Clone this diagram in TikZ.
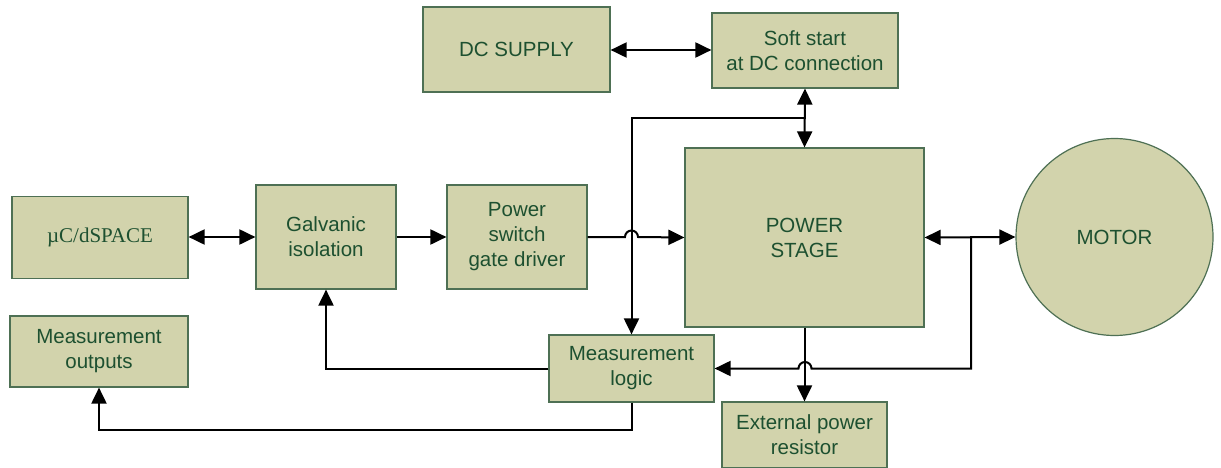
\documentclass[tikz,border=0pt]{standalone}
\usepackage{fontspec}
\setmainfont{Liberation Sans}
\newfontfamily\serifsym{Liberation Serif}
\usetikzlibrary{arrows.meta}
\definecolor{boxfill}{HTML}{D2D3AC}
\definecolor{boxline}{HTML}{4E7054}
\definecolor{boxtext}{HTML}{1D5030}
\tikzset{
  blk/.style={draw=boxline, line width=1.2pt, fill=boxfill, text=boxtext, inner sep=0pt, align=center, font=\fontsize{20.5}{25}\selectfont},
  conn/.style={line width=2pt, black},
  tip/.tip={Triangle[length=16pt,width=15pt]},
  one/.style={conn, -tip},
  two/.style={conn, tip-tip}
}
\begin{document}
\begin{tikzpicture}[x=1pt,y=-1pt]
\useasboundingbox (0,0) rectangle (1221,468);
\begin{scope}
\clip (0,0) rectangle (1221,468);
\node[blk, minimum width=187pt, minimum height=85pt] (dc) at (516.5,49.5) {DC SUPPLY};
\node[blk, minimum width=186pt, minimum height=75pt] (soft) at (805,50.5) {Soft start\\at DC connection};
\node[blk, minimum width=176pt, minimum height=82pt, font=\serifsym\fontsize{21}{25}\selectfont] (uc) at (100,237.5) {µC/dSPACE};
\node[blk, minimum width=140pt, minimum height=104pt] (gal) at (326,237) {Galvanic\\isolation};
\node[blk, minimum width=140pt, minimum height=104pt] (gate) at (517,237) {Power\\switch\\gate driver};
\node[blk, minimum width=239pt, minimum height=179pt] (ps) at (804.5,237.5) {POWER\\STAGE};
\node[blk, circle, minimum size=197pt] (motor) at (1114.5,237) {MOTOR};
\node[blk, minimum width=178pt, minimum height=71pt] (mout) at (99,351.5) {Measurement\\outputs};
\node[blk, minimum width=165pt, minimum height=67pt] (mlog) at (631.5,368.5) {Measurement\\logic};
\node[blk, minimum width=165pt, minimum height=66pt] (ext) at (804.5,435) {External power\\resistor};
\end{scope}

\coordinate (j1) at (805,118);
\coordinate (j2) at (971,237);
\coordinate (hopA) at (631.5,237);
\coordinate (hopB) at (805,368.5);
\coordinate (low) at (631.5,430);

% top row
\draw[two] (dc.east |- 0,50) -- (soft.west |- 0,50);
\draw[two] (soft.south) -- (ps.north);
\draw[one] (j1) -- (mlog.north |- j1) -- (mlog.north);

% middle row
\draw[two] (uc.east |- 0,237) -- (gal.west);
\draw[one] (gal.east) -- (gate.west);
\draw[one] (gate.east) -- ([xshift=-6.5pt]hopA) arc[start angle=180,end angle=0,radius=6.5pt] -- (ps.west);
\draw[two] (ps.east) -- (motor.west);
\draw[one] (j2) -- (j2 |- hopB) -- ([xshift=6.5pt]hopB) arc[start angle=0,end angle=180,radius=6.5pt] -- (mlog.east);

% lower
\draw[one] (ps.south) -- (ext.north);
\draw[one] (mlog.west) -| (gal.south);
\draw[one] (mlog.south) -- (low) -| (mout.south);
\end{tikzpicture}
\end{document}
